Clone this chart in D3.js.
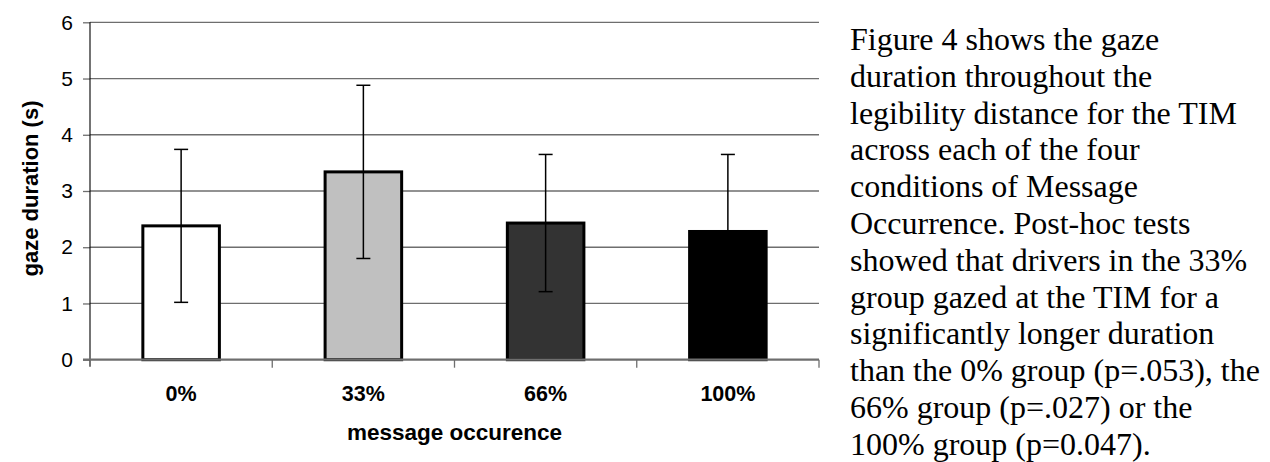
<!DOCTYPE html>
<html>
<head>
<meta charset="utf-8">
<script src="https://cdn.jsdelivr.net/npm/d3@7"></script>
<style>
    body { margin: 0; background: #fff; }
    svg { display: block; }
</style>
</head>
<body>
<svg id="chart" width="1270" height="462"></svg>
<script>
let categories = ['0%', '33%', '66%', '100%'];
let means = [2.38, 3.34, 2.43, 2.28];
let errors = [1.36, 1.54, 1.22, 1.37];
let fills = ['#ffffff', '#c0c0c0', '#333333', '#000000'];
let yTicks = [0, 1, 2, 3, 4, 5, 6];
let paragraph = [
    'Figure 4 shows the gaze',
    'duration throughout the',
    'legibility distance for the TIM',
    'across each of the four',
    'conditions of Message',
    'Occurrence. Post-hoc tests',
    'showed that drivers in the 33%',
    'group gazed at the TIM for a',
    'significantly longer duration',
    'than the 0% group (p=.053), the',
    '66% group (p=.027) or the',
    '100% group (p=0.047).'
];

let sans = 'Liberation Sans, Arial, sans-serif';
let svg = d3.select('#chart');
let plotLeft = 90, plotRight = 819, plotTop = 22.3, plotBottom = 359.7;

let x = d3.scaleBand().domain(categories).range([plotLeft, plotRight]).paddingInner(0.58).paddingOuter(0.29);
let y = d3.scaleLinear().domain([0, 6]).range([plotBottom, plotTop]);

// gridlines
svg.append('g')
    .selectAll('line')
    .data(yTicks.filter(t => t > 0))
    .enter().append('line')
    .attr('x1', plotLeft).attr('x2', plotRight)
    .attr('y1', d => y(d)).attr('y2', d => y(d))
    .attr('stroke', '#6e6e6e').attr('stroke-width', 1.3);

// y axis
let yAxis = svg.append('g')
    .attr('transform', `translate(${plotLeft},0)`)
    .call(d3.axisLeft(y).tickValues(yTicks).tickFormat(d3.format('d'))
        .tickSize(7).tickPadding(10).tickSizeOuter(0));
yAxis.select('.domain').remove();
yAxis.selectAll('.tick line').attr('stroke', '#6e6e6e').attr('stroke-width', 1.3);
yAxis.selectAll('.tick text')
    .attr('font-family', sans)
    .attr('font-size', 21).attr('fill', '#000');
svg.append('line')
    .attr('x1', plotLeft).attr('x2', plotLeft)
    .attr('y1', plotTop).attr('y2', plotBottom + 7)
    .attr('stroke', '#000').attr('stroke-width', 1.1);

// bars
svg.append('g')
    .selectAll('rect')
    .data(categories)
    .enter().append('rect')
    .attr('x', d => x(d))
    .attr('width', x.bandwidth())
    .attr('y', (d, i) => y(means[i]))
    .attr('height', (d, i) => y(0) - y(means[i]))
    .attr('fill', (d, i) => fills[i])
    .attr('stroke', '#000').attr('stroke-width', 3);

// error bars
let err = svg.append('g').attr('stroke', '#000').attr('stroke-width', 1.5);
categories.forEach((c, i) => {
    let cx = x(c) + x.bandwidth() / 2;
    let lo = y(means[i] - errors[i]), hi = y(means[i] + errors[i]);
    err.append('line').attr('x1', cx).attr('x2', cx).attr('y1', lo).attr('y2', hi);
    err.append('line').attr('x1', cx - 7).attr('x2', cx + 7).attr('y1', lo).attr('y2', lo);
    err.append('line').attr('x1', cx - 7).attr('x2', cx + 7).attr('y1', hi).attr('y2', hi);
});

// x axis
let bounds = d3.range(categories.length + 1).map(i => plotLeft + i * (plotRight - plotLeft) / categories.length);
svg.append('line')
    .attr('x1', plotLeft - 7).attr('x2', plotRight)
    .attr('y1', plotBottom).attr('y2', plotBottom)
    .attr('stroke', '#6e6e6e').attr('stroke-width', 2.2);
svg.append('g')
    .selectAll('line')
    .data(bounds.slice(1))
    .enter().append('line')
    .attr('x1', d => d).attr('x2', d => d)
    .attr('y1', plotBottom).attr('y2', plotBottom + 8)
    .attr('stroke', '#6e6e6e').attr('stroke-width', 1.3);

svg.append('g')
    .selectAll('text')
    .data(categories)
    .enter().append('text')
    .attr('x', d => x(d) + x.bandwidth() / 2)
    .attr('y', 401)
    .attr('text-anchor', 'middle')
    .attr('font-family', sans)
    .attr('font-weight', 'bold').attr('font-size', 21.5)
    .text(d => d);

svg.append('text')
    .attr('x', (plotLeft + plotRight) / 2).attr('y', 440)
    .attr('text-anchor', 'middle')
    .attr('font-family', sans)
    .attr('font-weight', 'bold').attr('font-size', 22.5)
    .text('message occurence');

svg.append('text')
    .attr('transform', 'translate(38,188.5) rotate(-90)')
    .attr('text-anchor', 'middle')
    .attr('font-family', sans)
    .attr('font-weight', 'bold').attr('font-size', 22)
    .text('gaze duration (s)');

// paragraph
svg.append('g')
    .selectAll('text')
    .data(paragraph)
    .enter().append('text')
    .attr('x', 850)
    .attr('y', (d, i) => 50 + i * 36.8)
    .attr('font-family', 'Liberation Serif, Times New Roman, serif')
    .attr('font-size', 32)
    .text(d => d);
</script>
</body>
</html>
